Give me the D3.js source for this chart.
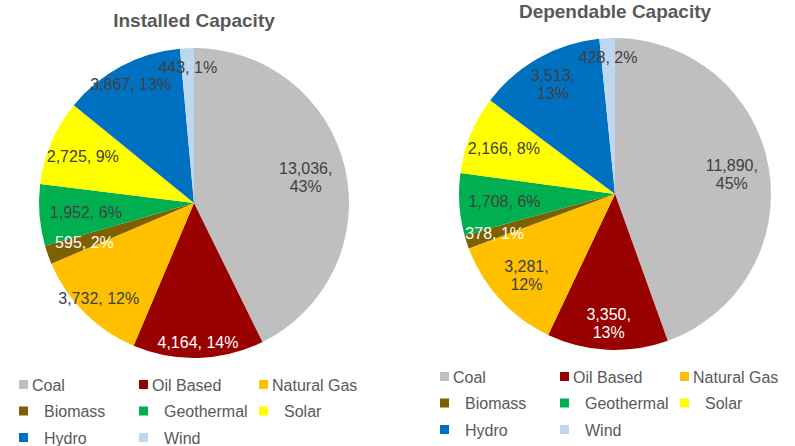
<!DOCTYPE html>
<html>
<head>
<meta charset="utf-8">
<script src="https://cdn.jsdelivr.net/npm/d3@7"></script>
<style>
  body { margin: 0; background: #fff; }
  svg { font-family: "Liberation Sans", Arial, sans-serif; }
</style>
</head>
<body>
<svg id="chart" width="795" height="446"></svg>
<script>
// data
let categories = ["Coal", "Oil Based", "Natural Gas", "Biomass", "Geothermal", "Solar", "Hydro", "Wind"];
let installed = [13036, 4164, 3732, 595, 1952, 2725, 3867, 443];
let dependable = [11890, 3350, 3281, 378, 1708, 2166, 3513, 428];
let titles = ["Installed Capacity", "Dependable Capacity"];

let colors = ["#BFBFBF", "#990000", "#FFC000", "#7F6000", "#00B050", "#FFFF00", "#0070C0", "#BDD7EE"];
let labelColors = ["#404040", "#ffffff", "#404040", "#ffffff", "#404040", "#404040", "#404040", "#404040"];

// label layout (fraction of radius, and whether Excel wrapped the label)
let charts = [
  { values: installed, cx: 194, cy: 203, r: 155, titleY: 27, legendX: 19, legendY: 385,
    labelR: [0.74, 0.90, 0.87, 0.75, 0.70, 0.78, 0.87, 0.88],
    wrap: [true, false, false, false, false, false, false, false] },
  { values: dependable, cx: 615, cy: 194, r: 156, titleY: 18, legendX: 440, legendY: 377,
    labelR: [0.76, 0.83, 0.77, 0.81, 0.71, 0.77, 0.81, 0.88],
    wrap: [true, true, true, false, false, false, true, false] }
];

let svg = d3.select("#chart");
let fmt = d3.format(",");

let pie = d3.pie().sort(null).value(d => d);

charts.forEach((c, ci) => {
  let g = svg.append("g").attr("transform", "translate(" + c.cx + "," + c.cy + ")");
  let arcs = pie(c.values);
  let total = d3.sum(c.values);
  let arc = d3.arc().innerRadius(0).outerRadius(c.r);

  g.selectAll("path").
  data(arcs).
  enter().append("path").
  attr("d", arc).
  attr("fill", (d, i) => colors[i]);

  let labels = g.selectAll("text.lbl").
  data(arcs).
  enter().append("text").
  attr("class", "lbl").
  attr("text-anchor", "middle").
  attr("font-size", 16).
  attr("fill", (d, i) => labelColors[i]).
  attr("transform", (d, i) => {
    let m = (d.startAngle + d.endAngle) / 2;
    let rr = c.r * c.labelR[i];
    return "translate(" + Math.sin(m) * rr + "," + -Math.cos(m) * rr + ")";
  });

  labels.each(function (d, i) {
    let pct = Math.round(d.value / total * 100) + "%";
    let t = d3.select(this);
    if (c.wrap[i]) {
      t.append("tspan").attr("x", 0).attr("y", -3).text(fmt(d.value) + ",");
      t.append("tspan").attr("x", 0).attr("y", 15).text(pct);
    } else {
      t.append("tspan").attr("x", 0).attr("y", 6).text(fmt(d.value) + ", " + pct);
    }
  });

  svg.append("text").
  attr("x", c.cx).
  attr("y", c.titleY).
  attr("text-anchor", "middle").
  attr("font-size", 19).
  attr("font-weight", "bold").
  attr("fill", "#595959").
  text(titles[ci]);

  let legend = svg.append("g").
  attr("transform", "translate(" + c.legendX + "," + c.legendY + ")");

  let item = legend.selectAll("g").
  data(categories).
  enter().append("g").
  attr("transform", (d, i) => "translate(" + (i % 3) * 120 + "," + Math.floor(i / 3) * 26.5 + ")");

  item.append("rect").
  attr("x", 0).
  attr("y", -5).
  attr("width", 9).
  attr("height", 9).
  attr("fill", (d, i) => colors[i]);

  item.append("text").
  attr("x", (d, i) => i < 3 ? 13 : 25).
  attr("y", 5.5).
  attr("font-size", 16).
  attr("fill", "#595959").
  text(d => d);
});
</script>
</body>
</html>
